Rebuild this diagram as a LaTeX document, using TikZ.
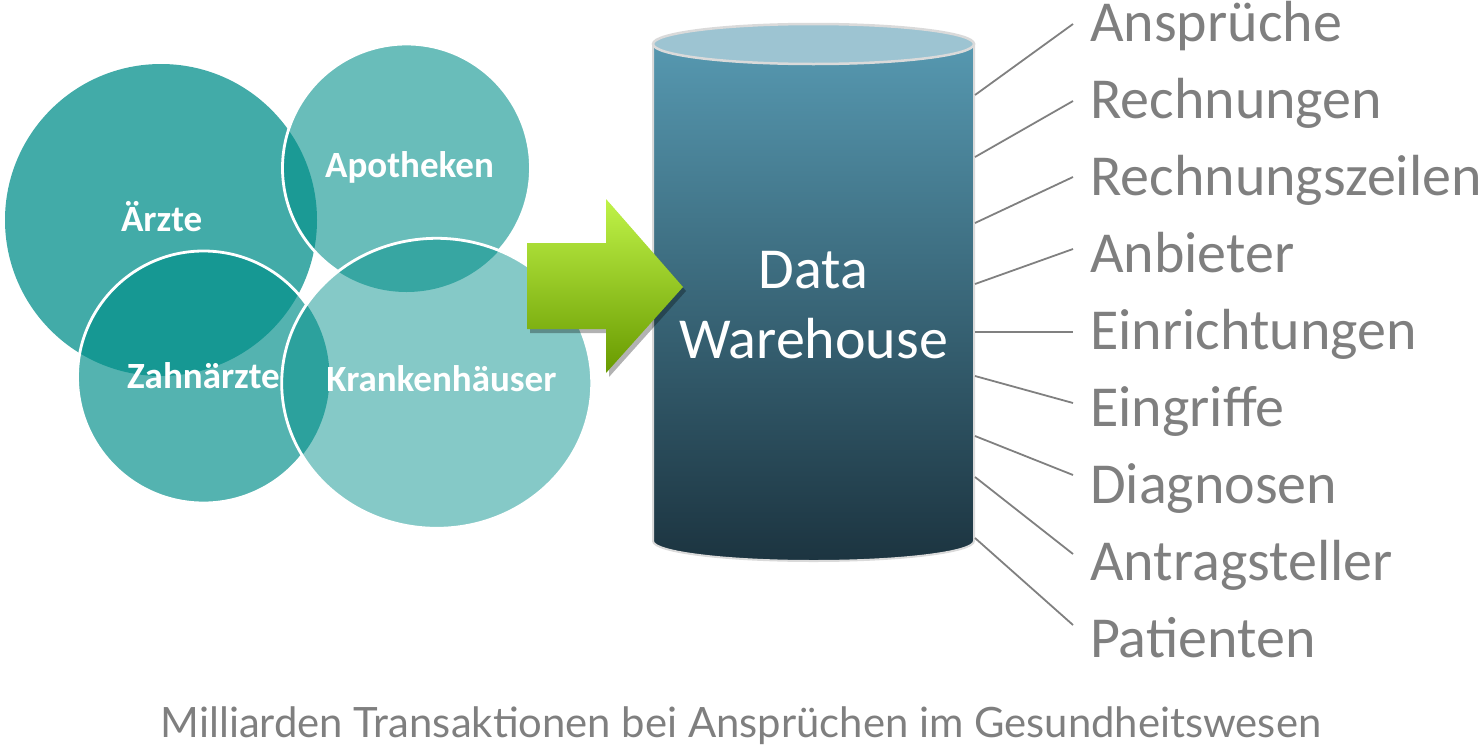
\documentclass[tikz,border=0pt]{standalone}
\usepackage{fontspec}
\setmainfont{Carlito}
\newfontfamily\captionfont{Lato}
\usetikzlibrary{shadows,calc}
\definecolor{teal0}{RGB}{0,142,137}
\definecolor{tabgray}{RGB}{127,127,127}
\definecolor{linegray}{RGB}{128,128,128}
\definecolor{dwtop}{RGB}{86,152,176}
\definecolor{dwbottom}{RGB}{28,52,64}
\definecolor{dwlid}{RGB}{157,196,210}
\definecolor{dwrim}{RGB}{218,218,218}
\definecolor{arrowlight}{RGB}{192,243,72}
\definecolor{arrowmid}{RGB}{155,222,0}
\definecolor{arrowdark}{RGB}{104,154,0}

\begin{document}
\begin{tikzpicture}[x=1pt, y=-1pt,
  source/.style={anchor=base, text=white, font=\fontsize{37}{40}\selectfont\bfseries},
  ring/.style={draw=white, line width=2.8pt},
  tab/.style={anchor=west, text=tabgray, inner xsep=17pt, inner ysep=0pt,
    font=\fontsize{58}{68}\selectfont, text height=37pt, text depth=0pt},
  link/.style={draw=linegray, line width=1.8pt}]
  \useasboundingbox (0,0) rectangle (1482,747);
  \fill[teal0, fill opacity=0.74] (161,220) circle[radius=156];
  \fill[teal0, fill opacity=0.59] (406.5,168) circle[radius=124];
  \fill[teal0, fill opacity=0.67] (203.5,377) circle[radius=126];
  \fill[teal0, fill opacity=0.48] (436.7,383.3) ellipse[x radius=155, y radius=145];
  \begin{scope}[even odd rule]
    \clip (0,0) rectangle (620,747)
      (436.7,383.3) ellipse[x radius=155, y radius=145];
    \draw[ring] (406.5,168) circle[radius=124] (203.5,377) circle[radius=126];
  \end{scope}
  \draw[ring] (436.7,383.3) ellipse[x radius=155, y radius=145];
  \node[source] (arzte) at (161.7,231.7) {Ärzte};
  \node[source] (apo) at (409.5,177) {Apotheken};
  \node[source] (zahn) at (203.5,388.3) {Zahnärzte};
  \node[source] (kh) at (441.4,391.7) {Krankenhäuser};
  \shade[top color=dwtop, bottom color=dwbottom, draw=dwrim, line width=2pt]
    (653,44) -- (653,541) arc[start angle=180, end angle=0, x radius=160.5, y radius=20]
    -- (974,44) -- cycle;
  \filldraw[fill=dwlid, draw=dwrim, line width=2.5pt] (813.5,44)
    ellipse[x radius=160.5, y radius=20];
  \node[font=\fontsize{58}{70}\selectfont, text=white, align=center] (dw) at (813.5,305)
    {Data\\Warehouse};
  \shade[top color=arrowlight, middle color=arrowmid, bottom color=arrowdark,
    drop shadow={shadow xshift=3pt, shadow yshift=-4pt, opacity=0.3, fill=black}]
    (527,243) -- (606,243) -- (606,199) -- (683,287) -- (606,373) -- (606,329)
    -- (527,329) -- cycle;
  \foreach \i/\name/\ly/\dy in {1/Ansprüche/95/1, 2/Rechnungen/157/1,
      3/Rechnungszeilen/223/0, 4/Anbieter/284/-5, 5/Einrichtungen/332/1,
      6/Eingriffe/376/-5, 7/Diagnosen/436/-10, 8/Antragsteller/477/-8,
      9/Patienten/538/-14} {
    \node[tab] (tab\i) at (1073,{23+77*(\i-1)}) {\name};
    \coordinate (dw\i) at (975,\ly);
    \draw[link] (dw\i) -- ($(tab\i.west)+(0,\dy)$);
  }
  \node[font=\captionfont\fontsize{41.8}{48}\selectfont, text=tabgray, anchor=base] (caption)
    at (741,737) {Milliarden Transaktionen bei Ansprüchen im Gesundheitswesen};
\end{tikzpicture}
\end{document}
